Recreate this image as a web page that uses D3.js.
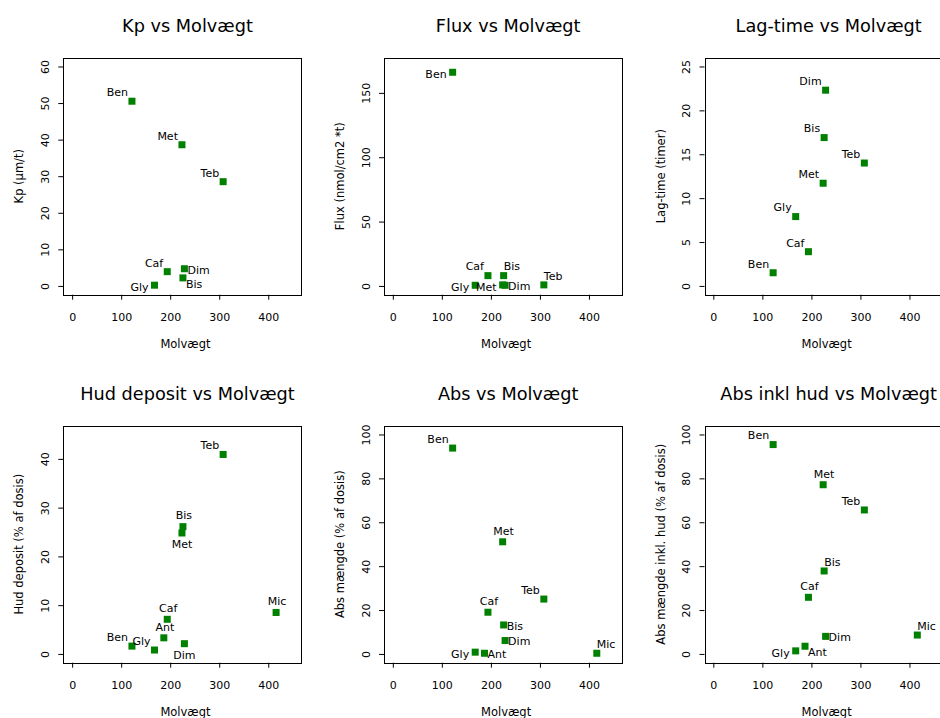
<!DOCTYPE html>
<html>
<head>
<meta charset="utf-8">
<script src="https://cdn.jsdelivr.net/npm/d3@7"></script>
<style>
  body { margin: 0; background: #fff; }
  svg { display: block; }
  text { font-family: "DejaVu Sans", Verdana, sans-serif; fill: #000; }
</style>
</head>
<body>
<svg id="chart" width="940" height="718"></svg>
<script>
// ---------------- DATA ----------------
const compounds = ["Ben", "Gly", "Ant", "Caf", "Met", "Bis", "Dim", "Teb", "Mic"];
const molvaegt  = [122, 168, 187, 194, 224, 226, 229, 308, 416];

const kp        = [50.5, 0.2, null, 3.9, 38.6, 2.2, 4.7, 28.5, null];
const flux      = [166, 0.5, null, 8.0, 0.8, 8.0, 0.5, 0.8, null];
const lagTime   = [1.5, 7.9, null, 3.9, 11.7, 16.9, 22.3, 14.0, null];
const hudDep    = [1.6, 0.8, 3.3, 7.1, 24.8, 26.1, 2.1, 40.9, 8.5];
const absAmt    = [93.8, 0.8, 0.3, 19.0, 51.1, 13.2, 6.1, 25.0, 0.3];
const absInkl   = [95.4, 1.4, 3.5, 25.8, 77.1, 37.8, 8.0, 65.6, 8.6];

const titles  = ["Kp vs Molvægt", "Flux vs Molvægt", "Lag-time vs Molvægt",
                 "Hud deposit vs Molvægt", "Abs vs Molvægt", "Abs inkl hud vs Molvægt"];
const yLabels = ["Kp (µm/t)", "Flux (nmol/cm2 *t)", "Lag-time (timer)",
                 "Hud deposit (% af dosis)", "Abs mængde (% af dosis)", "Abs mængde inkl. hud (% af dosis)"];
const xLabel  = "Molvægt";

const xLim   = [0, 450];
const xTicks = [0, 100, 200, 300, 400];
const yLims  = [[0, 60], [0, 170.5], [0, 25], [0, 45], [0, 100], [0, 100]];
const yTicks = [
  [0, 10, 20, 30, 40, 50, 60],
  [0, 50, 100, 150],
  [0, 5, 10, 15, 20, 25],
  [0, 10, 20, 30, 40],
  [0, 20, 40, 60, 80, 100],
  [0, 20, 40, 60, 80, 100]
];
const seriesList = [kp, flux, lagTime, hudDep, absAmt, absInkl];

// label placement codes per compound (layout only)
const labelPlacement = [
  ["ul", "l",  null, "ul", "ul", "dr", "r",  "ul", null],
  ["l",  "l",  null, "ul", "l",  "ur", "r",  "ur", null],
  ["ul", "ul", null, "ul", "ul", "ul", "ul", "ul", null],
  ["ul", "ul", "u",  "u",  "d",  "u",  "d",  "ul", "u"],
  ["ul", "l",  "r",  "u",  "u",  "r",  "r",  "ul", "ur"],
  ["ul", "l",  "dr", "u",  "u",  "ur", "r",  "ul", "ur"]
];

// ---------------- LAYOUT ----------------
const boxLefts = [63.3, 384, 704.5];
const boxTops  = [57.7, 425.7];
const boxW = 238.3, boxH = 237;
const placeDef = {
  ul: { anchor: "end",    dx: -4, dy: -9 },
  u:  { anchor: "middle", dx:  1, dy: -11 },
  ur: { anchor: "start",  dx:  0, dy: -9 },
  l:  { anchor: "end",    dx: -6, dy: 2 },
  r:  { anchor: "start",  dx:  3, dy: 1 },
  dr: { anchor: "start",  dx:  3, dy: 6 },
  d:  { anchor: "middle", dx:  0, dy: 11 }
};
const pointColor = "#008000";

const svg = d3.select("#chart");

function ext(lim) {
  const r = lim[1] - lim[0];
  return [lim[0] - 0.04 * r, lim[1] + 0.04 * r];
}

seriesList.forEach((vals, pi) => {
  const col = pi % 3, row = Math.floor(pi / 3);
  const left = boxLefts[col], top = boxTops[row];
  const g = svg.append("g");

  const x = d3.scaleLinear().domain(ext(xLim)).range([left, left + boxW]);
  const y = d3.scaleLinear().domain(ext(yLims[pi])).range([top + boxH, top]);

  // title
  g.append("text")
    .attr("x", left + boxW / 2 + 5)
    .attr("y", top - 26)
    .attr("text-anchor", "middle")
    .style("font-size", "17.7px")
    .text(titles[pi]);

  // x axis
  const xa = g.append("g")
    .attr("transform", `translate(0,${top + boxH})`)
    .call(d3.axisBottom(x).tickValues(xTicks).tickSize(5).tickFormat(d3.format("d")));
  xa.select(".domain").remove();
  xa.selectAll("line").attr("stroke", "#000");
  xa.selectAll("text")
    .attr("y", 26.5).attr("dy", null)
    .style("font-size", "11px")
    .style("font-family", "\"DejaVu Sans\", Verdana, sans-serif")
    .attr("fill", "#000");

  // y axis
  const ya = g.append("g")
    .attr("transform", `translate(${left},0)`)
    .call(d3.axisLeft(y).tickValues(yTicks[pi]).tickSize(5).tickFormat(d3.format("d")));
  ya.select(".domain").remove();
  ya.selectAll("line").attr("stroke", "#000");
  ya.selectAll("text")
    .attr("transform", "rotate(-90)")
    .attr("x", 0).attr("y", -18)
    .attr("dy", "0.35em")
    .attr("text-anchor", "middle")
    .style("font-size", "11px")
    .style("font-family", "\"DejaVu Sans\", Verdana, sans-serif")
    .attr("fill", "#000");

  // box
  g.append("rect")
    .attr("x", Math.round(left) + 0.5).attr("y", Math.round(top) + 0.5)
    .attr("width", Math.round(boxW)).attr("height", Math.round(boxH))
    .attr("fill", "none").attr("stroke", "#000").attr("stroke-width", 1);

  // axis titles
  g.append("text")
    .attr("x", left + boxW / 2 + 3)
    .attr("y", top + boxH + 53.5)
    .attr("text-anchor", "middle")
    .style("font-size", "11.5px")
    .text(xLabel);
  g.append("text")
    .attr("transform", `translate(${left - 44},${top + boxH / 2}) rotate(-90)`)
    .attr("text-anchor", "middle")
    .attr("dy", "0.35em")
    .style("font-size", "11.5px")
    .text(yLabels[pi]);

  // points + labels
  const pts = compounds.map((c, i) => ({ name: c, mw: molvaegt[i], v: vals[i], pos: labelPlacement[pi][i] }))
    .filter(d => d.v !== null);

  g.selectAll("rect.pt").data(pts).enter().append("rect")
    .attr("class", "pt")
    .attr("x", d => x(d.mw) - 3.5)
    .attr("y", d => y(d.v) - 3.5)
    .attr("width", 7).attr("height", 7)
    .attr("fill", pointColor);

  g.selectAll("text.lab").data(pts).enter().append("text")
    .attr("class", "lab")
    .attr("x", d => x(d.mw) + placeDef[d.pos].dx)
    .attr("y", d => y(d.v) + placeDef[d.pos].dy)
    .attr("dy", "0.35em")
    .attr("text-anchor", d => placeDef[d.pos].anchor)
    .style("font-size", "11px")
    .text(d => d.name);
});
</script>
</body>
</html>
